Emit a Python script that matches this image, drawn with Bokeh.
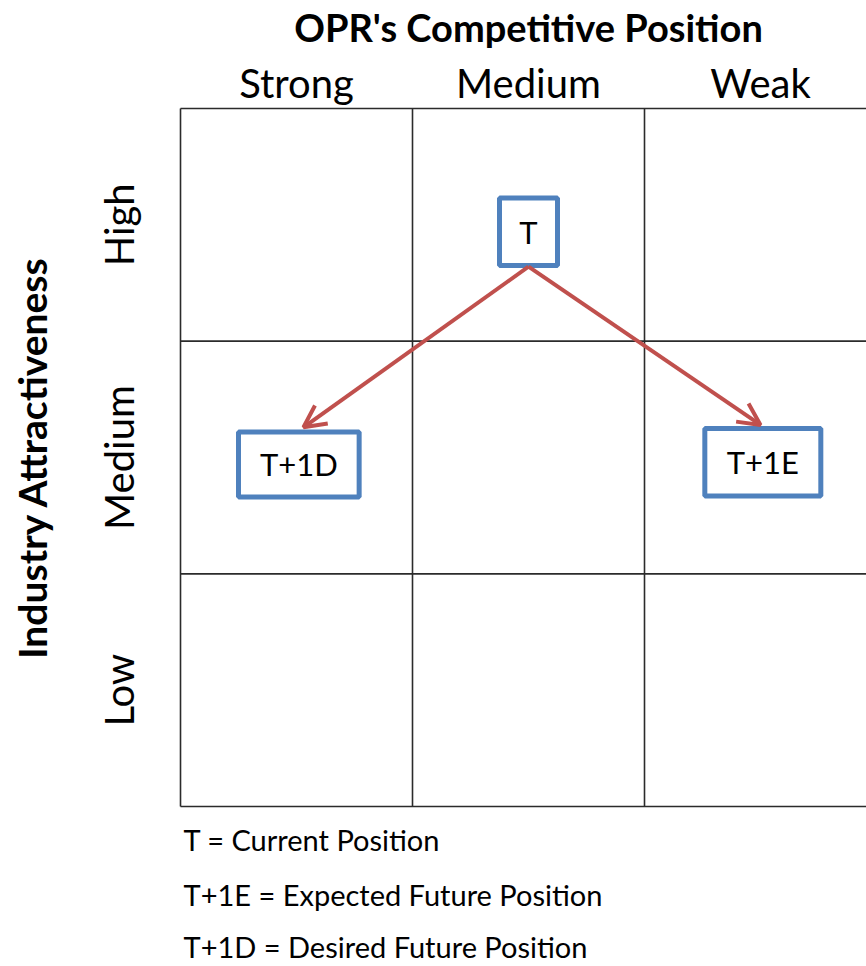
import math
from bokeh.plotting import figure
from bokeh.models import Range1d, Arrow, OpenHead, ColumnDataSource
from bokeh.core.properties import value
from bokeh.embed import file_html
from bokeh.resources import INLINE

# ---- data ----
title = "OPR's Competitive Position"
y_title = "Industry Attractiveness"
columns = ["Strong", "Medium", "Weak"]
rows = ["Low", "Medium", "High"]  # bottom to top
box_labels = ["T", "T+1D", "T+1E"]
box_x = [1.50, 0.51, 2.51]      # grid units (column)
box_y = [2.47, 1.47, 1.48]      # grid units (row)
box_w = [0.25, 0.52, 0.50]
box_h = [0.29, 0.28, 0.29]
arrow_from = [(1.50, 2.32), (1.50, 2.32)]
arrow_to = [(0.53, 1.63), (2.50, 1.64)]
legend_lines = ["T = Current Position",
                "T+1E = Expected Future Position",
                "T+1D = Desired Future Position"]

FONT = "Lato"
GRID_C = "#2b2b2b"
BLUE = "#4F81BD"
RED = "#C0504D"

ncol, nrow = len(columns), len(rows)

p = figure(width=866, height=966,
           x_range=Range1d(-0.7759, 2.9569),
           y_range=Range1d(-0.6877, 3.4642),
           output_backend="svg", toolbar_location=None,
           min_border=0)
p.axis.visible = False
p.grid.visible = False
p.outline_line_color = None
p.background_fill_color = "white"
p.border_fill_color = "white"

# grid lines
for i in range(ncol + 1):
    p.line([i, i], [0, nrow], line_color=GRID_C, line_width=1.6)
for j in range(nrow + 1):
    p.line([0, ncol], [j, j], line_color=GRID_C, line_width=1.6)

# title
p.text(x=[ncol / 2], y=[nrow + 0.35], text=[title],
       text_font=value(FONT), text_font_style="bold", text_font_size="38px",
       text_align="center", text_baseline="middle", text_color="black")

# column labels
p.text(x=[i + 0.5 for i in range(ncol)], y=[nrow + 0.11] * ncol, text=columns,
       text_font=value(FONT), text_font_size="40px",
       text_align="center", text_baseline="middle", text_color="black")

# row labels (rotated)
p.text(x=[-0.267] * nrow, y=[j + 0.5 for j in range(nrow)], text=rows,
       angle=math.pi / 2,
       text_font=value(FONT), text_font_size="40px",
       text_align="center", text_baseline="middle", text_color="black")

# y title
p.text(x=[-0.642], y=[nrow / 2], text=[y_title], angle=math.pi / 2,
       text_font=value(FONT), text_font_style="bold", text_font_size="39px",
       text_align="center", text_baseline="middle", text_color="black")

# arrows
for (x0, y0), (x1, y1) in zip(arrow_from, arrow_to):
    p.add_layout(Arrow(end=OpenHead(size=22, line_color=RED, line_width=4),
                       x_start=x0, y_start=y0, x_end=x1, y_end=y1,
                       line_color=RED, line_width=4))

# boxes
src = ColumnDataSource(dict(x=box_x, y=box_y, w=box_w, h=box_h, t=box_labels))
p.rect(x="x", y="y", width="w", height="h", source=src,
       fill_color="white", line_color=BLUE, line_width=5)
p.text(x="x", y="y", text="t", source=src,
       text_font=value(FONT), text_font_size="31px",
       text_align="center", text_baseline="middle", text_color="black")

# legend text
p.text(x=[0.013] * 3, y=[-0.140, -0.380, -0.600], text=legend_lines,
       text_font=value(FONT), text_font_size="29px",
       text_align="left", text_baseline="middle", text_color="black")

open("out.html", "w").write(file_html(p, INLINE))
